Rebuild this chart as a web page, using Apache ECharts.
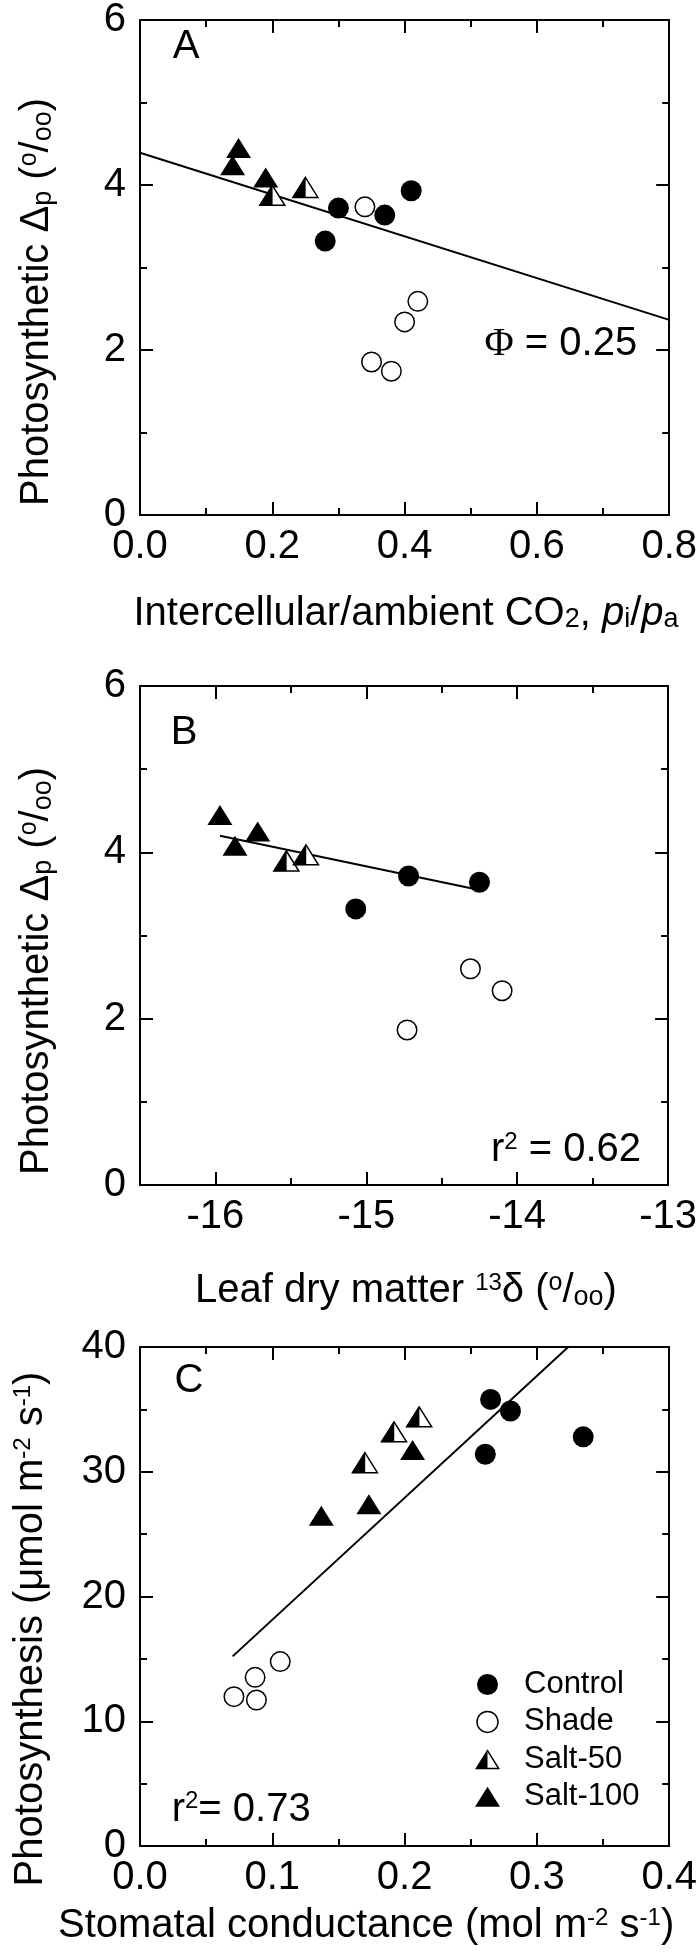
<!DOCTYPE html>
<html><head><meta charset="utf-8">
<script src="https://cdn.jsdelivr.net/npm/echarts@6/dist/echarts.min.js"></script>
<style>html,body{margin:0;padding:0;background:#fff}#c{width:700px;height:1953px}</style>
</head><body><div id="c"></div>
<script>
// ---------- Panel A : Δp vs pi/pa ----------
const A_control = [[0.30,3.72],[0.28,3.32],[0.37,3.635],[0.41,3.93]];
const A_shade   = [[0.34,3.735],[0.42,2.59],[0.40,2.34],[0.35,1.855],[0.38,1.743]];
const A_salt50  = [[0.20,3.875],[0.25,3.97]];
const A_salt100 = [[0.149,4.45],[0.140,4.24],[0.190,4.09]];
const A_fit     = [[0,4.39],[0.8,2.365]];
// ---------- Panel B : Δp vs leaf 13δ ----------
const B_control = [[-14.72,3.715],[-15.07,3.32],[-14.25,3.64]];
const B_shade   = [[-14.31,2.60],[-14.10,2.336],[-14.73,1.864]];
const B_salt50  = [[-15.53,3.896],[-15.40,3.97]];
const B_salt100 = [[-15.97,4.45],[-15.87,4.08],[-15.72,4.25]];
const B_fit     = [[-15.97,4.20],[-14.25,3.547]];
// ---------- Panel C : A vs gs ----------
const C_control = [[0.265,35.8],[0.280,34.87],[0.261,31.4],[0.335,32.8]];
const C_shade   = [[0.106,14.78],[0.087,13.52],[0.071,11.97],[0.088,11.70]];
const C_salt50  = [[0.211,34.4],[0.192,33.2],[0.170,30.73]];
const C_salt100 = [[0.206,31.74],[0.173,27.39],[0.137,26.48]];
const C_fit     = [[0.070,15.2],[0.3237,40]];
// ---------- tick values / labels ----------
const A_xTicks = [0,0.2,0.4,0.6,0.8];   const A_xLabels = ['0.0','0.2','0.4','0.6','0.8'];
const AB_yTicks = [0,2,4,6];            const AB_yLabels = ['0','2','4','6'];
const B_xTicks = [-16,-15,-14,-13];     const B_xLabels = ['-16','-15','-14','-13'];
const C_xTicks = [0,0.1,0.2,0.3,0.4];   const C_xLabels = ['0.0','0.1','0.2','0.3','0.4'];
const C_yTicks = [0,10,20,30,40];       const C_yLabels = ['0','10','20','30','40'];
const legendNames = ['Control','Shade','Salt-50','Salt-100'];

const FONT = '"Liberation Sans", Arial, Helvetica, sans-serif';
const SERIF = '"Liberation Serif", "Times New Roman", serif';

const xAxes = [], yAxes = [];
function addAxes(list, dim, grid, min, max, step, ticks, labels) {
  const pos = dim === 'x' ? ['bottom','top'] : ['left','right'];
  const mainIndex = list.length;
  pos.forEach((p, k) => {
    list.push({
      type:'value', gridIndex:grid, position:p, min, max, interval:step,
      splitLine:{show:false},
      axisLine:{show:true, onZero:false, lineStyle:{color:'#000', width:2}},
      axisTick:{show:true, inside:true, length:7, lineStyle:{color:'#000', width:2}},
      axisLabel: k === 0 ? {
        show:true, hideOverlap:false, margin: dim === 'x' ? 12 : 14,
        fontSize:40, fontFamily:FONT, color:'#000',
        formatter: v => { const i = ticks.findIndex(t => Math.abs(t - v) < 1e-6); return i < 0 ? '' : labels[i]; }
      } : {show:false}
    });
    list.push({
      type:'value', gridIndex:grid, position:p, min, max, interval:step,
      splitLine:{show:false},
      axisLine:{show:false, onZero:false},
      axisLabel:{show:false},
      axisTick:{show:true, inside:true, length:13, customValues:ticks, lineStyle:{color:'#000', width:2}}
    });
  });
  return mainIndex;
}
const xA = addAxes(xAxes,'x',0,0,0.8,0.1,A_xTicks,A_xLabels);
const yA = addAxes(yAxes,'y',0,0,6,1,AB_yTicks,AB_yLabels);
const xB = addAxes(xAxes,'x',1,-16.5,-13,0.5,B_xTicks,B_xLabels);
const yB = addAxes(yAxes,'y',1,0,6,1,AB_yTicks,AB_yLabels);
const xC = addAxes(xAxes,'x',2,0,0.4,0.05,C_xTicks,C_xLabels);
const yC = addAxes(yAxes,'y',2,0,40,5,C_yTicks,C_yLabels);

function halfTriangle(params, api) {
  const p = api.coord([api.value(0), api.value(1)]);
  const w = 12.5, h = 10;
  return {type:'group', children:[
    {type:'polygon', shape:{points:[[p[0],p[1]-h],[p[0]+w,p[1]+h],[p[0]-w,p[1]+h]]}, style:{fill:'#fff', stroke:'#000', lineWidth:1.5}},
    {type:'polygon', shape:{points:[[p[0],p[1]-h],[p[0],p[1]+h],[p[0]-w,p[1]+h]]}, style:{fill:'#000', stroke:'#000', lineWidth:0.5}}
  ]};
}
function panelSeries(xi, yi, control, shade, s50, s100, fit) {
  const common = {xAxisIndex:xi, yAxisIndex:yi, emphasis:{disabled:true}, silent:true};
  return [
    {...common, type:'line', name:'fit', data:fit, symbol:'none', lineStyle:{color:'#000', width:2, opacity:1}, z:1},
    {...common, type:'scatter', name:'Control', data:control, symbol:'circle', symbolSize:21, itemStyle:{color:'#000', opacity:1}, z:3},
    {...common, type:'scatter', name:'Shade', data:shade, symbol:'circle', symbolSize:19.5, itemStyle:{color:'#fff', borderColor:'#000', borderWidth:1.5, opacity:1}, z:3},
    {...common, type:'scatter', name:'Salt-100', data:s100, symbol:'triangle', symbolSize:[25,20], itemStyle:{color:'#000', opacity:1}, z:3},
    {...common, type:'custom', name:'Salt-50', data:s50, renderItem:halfTriangle, encode:{x:0, y:1}, itemStyle:{color:'#000', opacity:1}, z:3}
  ];
}

const RICH = {
  n:   {fontSize:40, lineHeight:40, fontFamily:FONT, fill:'#000'},
  it:  {fontSize:40, lineHeight:40, fontFamily:FONT, fontStyle:'italic', fill:'#000'},
  sub: {fontSize:27, lineHeight:10, fontFamily:FONT, verticalAlign:'bottom', fill:'#000'},
  sup: {fontSize:24, lineHeight:26, fontFamily:FONT, verticalAlign:'top', fill:'#000'},
  supo:{fontSize:25, lineHeight:16, fontFamily:FONT, verticalAlign:'top', fill:'#000'},
  phi: {fontSize:40, lineHeight:40, fontFamily:SERIF, fill:'#000'}
};
function txt(x, y, text, align, rot) {
  return {type:'text', x, y, rotation: rot || 0, silent:true, z:10,
    style:{text, rich:RICH, fontSize:40, fontFamily:FONT, fill:'#000',
      align: align || 'center', textAlign: align || 'center', verticalAlign:'middle', textVerticalAlign:'middle'}};
}
const yTitleDelta = '{n|Photosynthetic Δ}{sub|p}{n| (}{supo|o}{n|/}{sub|oo}{n|)}';
const graphics = [
  txt(186, 46.7, '{n|A}'),
  txt(184, 733, '{n|B}'),
  txt(189, 1381, '{n|C}'),
  txt(484.5, 344, '{phi|Φ}{n| = 0.25}', 'left'),
  txt(491, 1150, '{n|r}{sup|2}{n| = 0.62}', 'left'),
  txt(171.7, 1809.7, '{n|r}{sup|2}{n|= 0.73}', 'left'),
  txt(37, 302, yTitleDelta, 'center', Math.PI/2),
  txt(37, 971, yTitleDelta, 'center', Math.PI/2),
  txt(31, 1629, '{n|Photosynthesis (μmol m}{sup|-2}{n| s}{sup|-1}{n|)}', 'center', Math.PI/2),
  txt(406, 613.5, '{n|Intercellular/ambient CO}{sub|2}{n|, }{it|p}{sub|i}{n|/}{it|p}{sub|a}'),
  txt(406, 1291, '{n|Leaf dry matter }{sup|13}{n|δ (}{supo|o}{n|/}{sub|oo}{n|)}'),
  txt(58, 1926.4, '{n|Stomatal conductance (mol m}{sup|-2}{n| s}{sup|-1}{n|)}', 'left')
];

const option = {
  animation:false,
  backgroundColor:'#fff',
  grid:[
    {left:140, top:16,   width:531, height:499},
    {left:140, top:686,  width:531, height:499},
    {left:140, top:1347, width:531, height:499}
  ],
  xAxis:xAxes,
  yAxis:yAxes,
  legend:{
    orient:'vertical', left:475, top:1669, padding:0, itemGap:6.4,
    itemWidth:25, itemHeight:21, selectedMode:false,
    textStyle:{fontSize:31, lineHeight:31, fontFamily:FONT, color:'#000', padding:[0,0,0,19]},
    data:[
      {name:legendNames[0], icon:'circle', itemStyle:{color:'#000', opacity:1}},
      {name:legendNames[1], icon:'circle', itemStyle:{color:'#fff', borderColor:'#000', borderWidth:1.5, opacity:1}},
      {name:legendNames[2], icon:'path://M12.5 0 L25 20 L0 20 Z M12.5 2.8 L12.5 18.5 L22.3 18.5 Z', itemStyle:{color:'#000', opacity:1}},
      {name:legendNames[3], icon:'path://M12.5 0 L25 20 L0 20 Z', itemStyle:{color:'#000', opacity:1}}
    ]
  },
  series:[
    ...panelSeries(xA, yA, A_control, A_shade, A_salt50, A_salt100, A_fit),
    ...panelSeries(xB, yB, B_control, B_shade, B_salt50, B_salt100, B_fit),
    ...panelSeries(xC, yC, C_control, C_shade, C_salt50, C_salt100, C_fit)
  ],
  graphic:graphics
};
const chart = echarts.init(document.getElementById('c'), null, {renderer:'canvas'});
chart.setOption(option);
</script></body></html>
